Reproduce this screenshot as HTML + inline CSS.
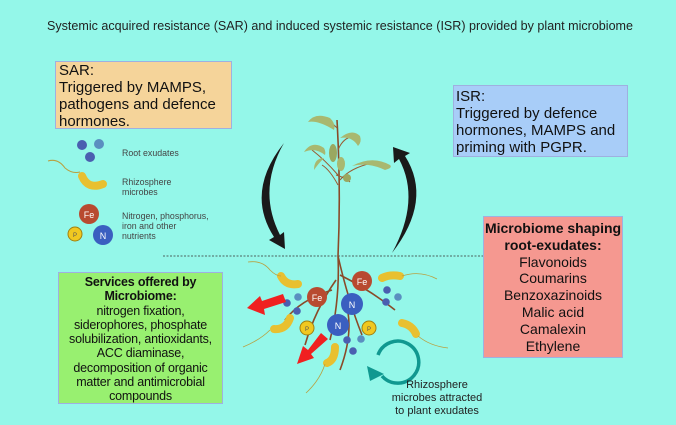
<!DOCTYPE html>
<html><head><meta charset="utf-8"><style>
body{margin:0;width:676px;height:425px;overflow:hidden;background:#94f7e9;font-family:"Liberation Sans",sans-serif}
svg{position:absolute;left:0;top:0}
.box{position:absolute;box-sizing:border-box;border:1px solid #9fb0e0;color:#111}
</style></head><body>
<svg width="676" height="425" viewBox="0 0 676 425">
<rect x="0" y="0" width="676" height="425" fill="#94f7e9"/>
<text x="340" y="30" font-size="12.6" text-anchor="middle" fill="#222" font-family="Liberation Sans" textLength="586" lengthAdjust="spacingAndGlyphs">Systemic acquired resistance (SAR) and induced systemic resistance (ISR) provided by plant microbiome</text>
<!-- legend -->
<circle cx="82" cy="145" r="5" fill="#4a5fb0"/><circle cx="99" cy="144" r="5" fill="#5a8fc0"/><circle cx="90" cy="157" r="5" fill="#4a5fb0"/>
<text x="122" y="156" font-size="8.8" fill="#444">Root exudates</text>
<path d="M48 161 Q58 158 65 168 Q72 174 80 172" stroke="#b8a040" fill="none" stroke-width="1"/>
<path d="M82 176 Q88 190 103 184" stroke="#e8c030" stroke-width="8" stroke-linecap="round" fill="none"/>
<text x="122" y="185" font-size="8.8" fill="#444">Rhizosphere</text><text x="122" y="195" font-size="8.8" fill="#444">microbes</text>
<circle cx="89" cy="214" r="10" fill="#b84a30"/><text x="89" y="218" font-size="9" fill="#fff" text-anchor="middle">Fe</text>
<circle cx="75" cy="234" r="7" fill="#f0c820" stroke="#a08010"/><text x="75" y="237" font-size="6" text-anchor="middle" fill="#555">P</text>
<circle cx="103" cy="235" r="10" fill="#3a5fc0"/><text x="103" y="239" font-size="9" fill="#fff" text-anchor="middle">N</text>
<text x="122" y="219" font-size="8.8" fill="#444">Nitrogen, phosphorus,</text><text x="122" y="229" font-size="8.8" fill="#444">iron and other</text><text x="122" y="239" font-size="8.8" fill="#444">nutrients</text>
<!-- dashed -->
<line x1="163" y1="256" x2="483" y2="256" stroke="#333" stroke-dasharray="2,1.5" stroke-width="0.8"/>
<!-- black arrows -->
<path d="M284 143 Q245 192 274 237 L269 240 L285 249 L284 232 L280 235 Q257 190 284 143Z" fill="#1a1a1a"/>
<path d="M392 253 Q433 200 405 156 L410 153 L393 147 L394 163 L399 159 Q421 200 392 253Z" fill="#1a1a1a"/>
<!-- plant -->
<path d="M337 120 Q341 190 338 256 Q340 300 330 340 M338 256 Q348 300 362 335 M336 280 Q315 310 305 345 M340 275 Q370 290 395 310 M332 290 Q300 300 285 320 M345 300 Q355 330 340 370" stroke="#8a4a28" stroke-width="1.6" fill="none"/>
<path d="M337 128 Q330 120 320 118 M338 175 Q325 160 312 150 M338 185 Q330 170 322 165 M340 180 Q350 168 372 163 M338 150 Q342 140 350 137 M336 175 Q346 178 350 182" stroke="#9a5a30" stroke-width="1" fill="none"/>
<path d="M308 122 Q315 112 330 118 Q336 124 334 130 Q318 120 308 122Z" fill="#a8b870"/>
<path d="M340 138 Q352 128 360 136 Q362 142 358 146 Q352 136 340 138Z" fill="#a8b870"/>
<path d="M304 152 Q312 140 324 148 Q326 152 325 155 Q315 147 304 152Z" fill="#a8b870"/>
<path d="M314 170 Q314 158 324 158 Q318 164 314 170Z" fill="#a8b870"/>
<path d="M352 166 Q372 155 390 165 Q393 168 385 170 Q368 162 352 166Z" fill="#a8b870"/>
<ellipse cx="333" cy="153" rx="4" ry="9" fill="#9aa860"/>
<ellipse cx="341" cy="164" rx="4" ry="7" fill="#a8b870"/>
<ellipse cx="347" cy="178" rx="4" ry="4" fill="#9aa860"/>
<!-- microbes root zone -->
<g stroke="#e8c030" stroke-width="8" stroke-linecap="round" fill="none">
<path d="M281 276 Q286 286 298 284"/><path d="M290 318 Q286 330 274 329"/><path d="M335 347 Q335 360 327 363"/><path d="M382 278 Q390 274 400 276"/><path d="M402 323 Q412 325 416 334"/>
</g>
<g stroke="#b8a040" stroke-width="0.8" fill="none">
<path d="M248 262 Q262 260 270 270 Q276 276 281 276"/><path d="M243 347 Q260 340 270 330"/><path d="M306 393 Q320 380 325 364"/><path d="M402 276 Q420 270 437 279"/><path d="M418 336 Q430 346 448 348"/>
</g>
<g fill="#4a5fb0"><circle cx="287" cy="303" r="3.8"/><circle cx="297" cy="311" r="3.8"/><circle cx="387" cy="290" r="3.8"/><circle cx="386" cy="302" r="3.8"/><circle cx="347" cy="340" r="3.8"/><circle cx="353" cy="351" r="3.8"/></g>
<g fill="#5a8fc0"><circle cx="298" cy="297" r="3.8"/><circle cx="398" cy="297" r="3.8"/><circle cx="361" cy="339" r="3.8"/></g>
<circle cx="317" cy="297" r="10" fill="#b84a30"/><text x="317" y="301" font-size="9" fill="#fff" text-anchor="middle">Fe</text>
<circle cx="362" cy="281" r="10" fill="#b84a30"/><text x="362" y="285" font-size="9" fill="#fff" text-anchor="middle">Fe</text>
<circle cx="352" cy="304" r="11" fill="#3a5fc0"/><text x="352" y="308" font-size="9" fill="#fff" text-anchor="middle">N</text>
<circle cx="338" cy="325" r="11" fill="#3a5fc0"/><text x="338" y="329" font-size="9" fill="#fff" text-anchor="middle">N</text>
<circle cx="307" cy="328" r="7" fill="#f0c820" stroke="#a08010"/><text x="307" y="331" font-size="6" text-anchor="middle" fill="#555">P</text>
<circle cx="369" cy="328" r="7" fill="#f0c820" stroke="#a08010"/><text x="369" y="331" font-size="6" text-anchor="middle" fill="#555">P</text>
<!-- red arrows -->
<path d="M283 294 L262 301 L260 296 L247 308 L265 315 L264 309 L286 302Z" fill="#f02020"/>
<path d="M321 333 L308 350 L303 346 L297 364 L314 358 L311 354 L328 339Z" fill="#f02020"/>
<!-- teal arrow -->
<path d="M378 355 A21 21 0 1 1 382 376" stroke="#109890" stroke-width="3.5" fill="none"/>
<path d="M367 366 L370 381 L384 374Z" fill="#109890"/>
<text font-size="11" fill="#222" text-anchor="middle"><tspan x="437" y="388">Rhizosphere</tspan><tspan x="437" y="401">microbes attracted</tspan><tspan x="437" y="414">to plant exudates</tspan></text>
</svg>
<div class="box" style="left:55px;top:61px;width:177px;height:68px;background:#f5d49a;font-size:15px;line-height:17px;padding:0 3px">SAR:<br>Triggered by MAMPS,<br>pathogens and defence<br>hormones.</div>
<div class="box" style="left:453px;top:85px;width:175px;height:72px;background:#a8cdf8;font-size:15px;line-height:17px;padding:2px 2px">ISR:<br>Triggered by defence<br>hormones, MAMPS and<br>priming with PGPR.</div>
<div class="box" style="left:483px;top:216px;width:140px;height:142px;background:#f59890;font-size:14px;line-height:16.8px;text-align:center;padding-top:3px"><b>Microbiome shaping<br>root-exudates:</b><br>Flavonoids<br>Coumarins<br>Benzoxazinoids<br>Malic acid<br>Camalexin<br>Ethylene</div>
<div class="box" style="left:58px;top:272px;width:165px;height:132px;background:#98f070;font-size:12.5px;line-height:14.3px;text-align:center;padding-top:2px;letter-spacing:-0.2px"><b>Services offered by<br>Microbiome:</b><br>nitrogen fixation,<br>siderophores, phosphate<br>solubilization, antioxidants,<br>ACC diaminase,<br>decomposition of organic<br>matter and antimicrobial<br>compounds</div>
</body></html>
